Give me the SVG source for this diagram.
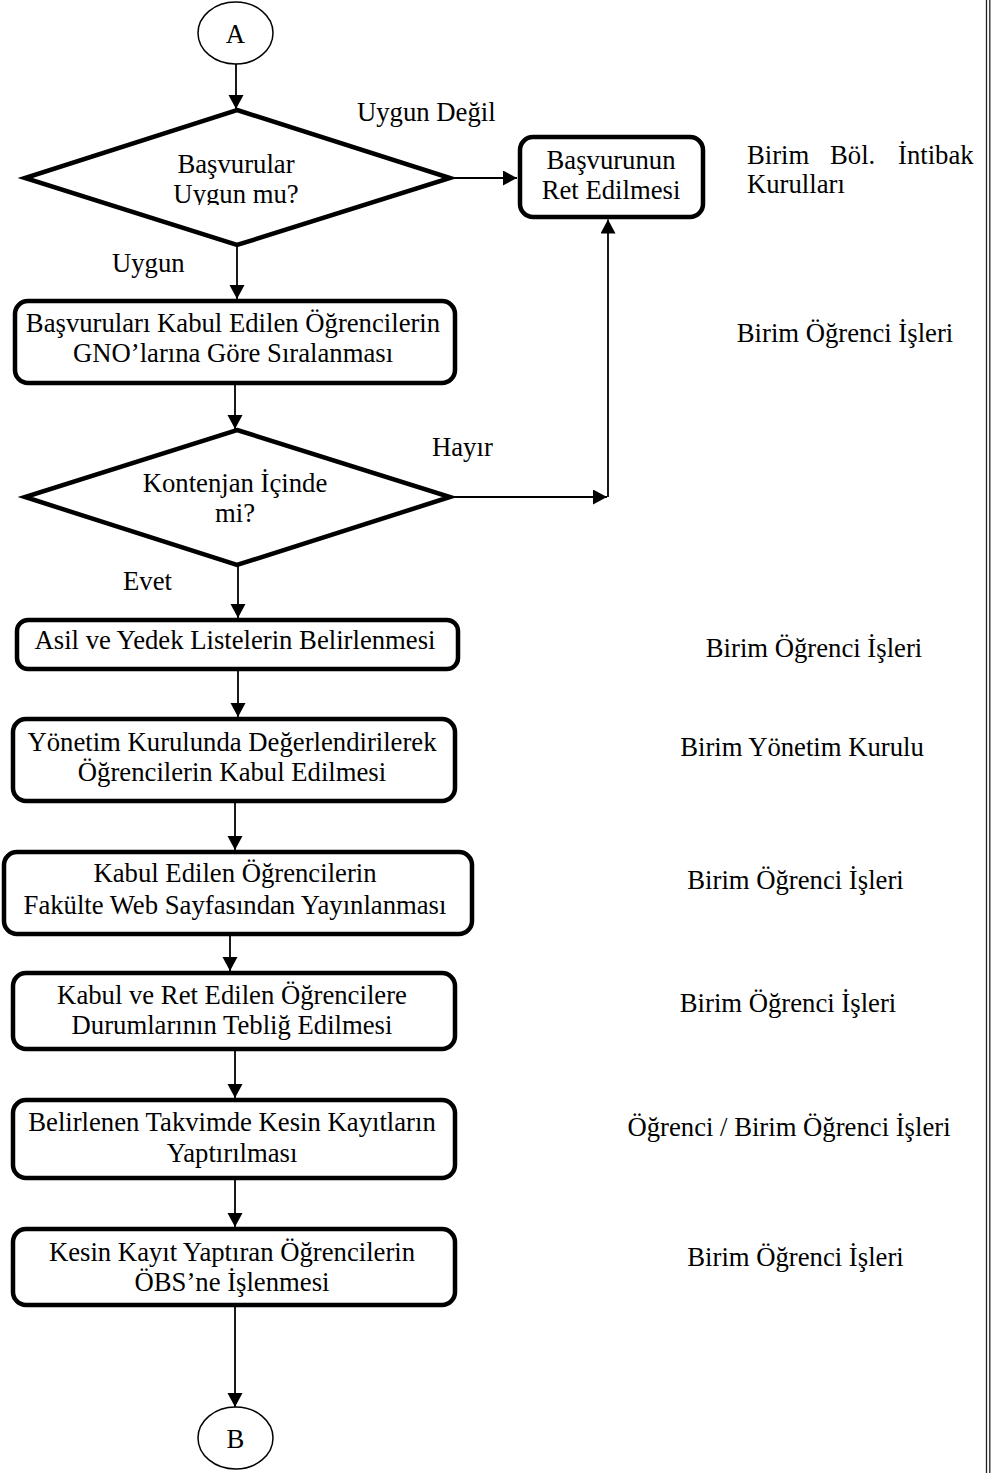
<svg xmlns="http://www.w3.org/2000/svg" width="997" height="1473" viewBox="0 0 997 1473">
<style>
text{font-family:"Liberation Serif","Times New Roman",serif;font-size:26.7px;fill:#000}
.c{text-anchor:middle}
.box{fill:#fff;stroke:#000;stroke-width:4.5}
.dia{fill:#fff;stroke:#000;stroke-width:4.5;stroke-linejoin:miter}
.term{fill:#fff;stroke:#000;stroke-width:1.5}
.con{fill:none;stroke:#000;stroke-width:1.8}
.border{stroke:#222;stroke-width:1.3}
</style>
<defs>
<marker id="arr" markerUnits="userSpaceOnUse" markerWidth="16" markerHeight="16" refX="14" refY="7.5" orient="auto">
<path d="M0,0 L14,7.5 L0,15 z" fill="#000"/>
</marker>
<clipPath id="clip1"><rect x="0" y="130" width="480" height="75"/></clipPath>
</defs>
<rect x="0" y="0" width="997" height="1473" fill="#fff"/>
<g id="border">
<line class="border" x1="986.5" y1="0" x2="986.5" y2="1473"/>
<line class="border" x1="989.8" y1="0" x2="989.8" y2="1473"/>
</g>
<g id="connectors">
<line class="con" x1="236" y1="64" x2="236" y2="109" marker-end="url(#arr)"/>
<line class="con" x1="452" y1="178" x2="517" y2="178" marker-end="url(#arr)"/>
<line class="con" x1="237" y1="246" x2="237" y2="299" marker-end="url(#arr)"/>
<line class="con" x1="235" y1="385" x2="235" y2="429" marker-end="url(#arr)"/>
<polyline class="con" points="452,497 607,497" marker-end="url(#arr)"/>
<line class="con" x1="608" y1="497" x2="608" y2="219.5" marker-end="url(#arr)"/>
<line class="con" x1="238" y1="566" x2="238" y2="618" marker-end="url(#arr)"/>
<line class="con" x1="238" y1="671" x2="238" y2="717" marker-end="url(#arr)"/>
<line class="con" x1="235" y1="803" x2="235" y2="850" marker-end="url(#arr)"/>
<line class="con" x1="230" y1="936" x2="230" y2="971" marker-end="url(#arr)"/>
<line class="con" x1="235" y1="1051" x2="235" y2="1098" marker-end="url(#arr)"/>
<line class="con" x1="235" y1="1180" x2="235" y2="1227" marker-end="url(#arr)"/>
<line class="con" x1="235" y1="1307" x2="235" y2="1407" marker-end="url(#arr)"/>
</g>
<g id="labels">
<text x="357" y="121">Uygun Değil</text>
<text x="112" y="272">Uygun</text>
<text x="432" y="456">Hayır</text>
<text x="123" y="590">Evet</text>
</g>
<g id="nodeA">
<ellipse class="term" cx="235.5" cy="33" rx="37.5" ry="31"/>
<text class="c" x="235.5" y="43">A</text>
</g>
<g id="decision1">
<polygon class="dia" points="237,110 450,178 237,245 25,178"/>
<text class="c" x="236" y="173">Başvurular</text>
<text class="c" x="236" y="203" clip-path="url(#clip1)">Uygun mu?</text>
</g>
<g id="reject">
<rect class="box" x="520" y="137" width="183" height="80" rx="13"/>
<text class="c" x="611" y="169">Başvurunun</text>
<text class="c" x="611" y="199">Ret Edilmesi</text>
</g>
<g id="sort">
<rect class="box" x="15" y="301" width="440" height="82" rx="13"/>
<text class="c" x="233" y="332">Başvuruları Kabul Edilen Öğrencilerin</text>
<text class="c" x="233" y="362">GNO’larına Göre Sıralanması</text>
</g>
<g id="decision2">
<polygon class="dia" points="237,430 450,497 237,565 25,497"/>
<text class="c" x="235" y="492">Kontenjan İçinde</text>
<text class="c" x="235" y="522">mi?</text>
</g>
<g id="lists">
<rect class="box" x="17" y="620" width="441" height="49" rx="11"/>
<text class="c" x="235" y="649">Asil ve Yedek Listelerin Belirlenmesi</text>
</g>
<g id="board">
<rect class="box" x="13" y="719" width="442" height="82" rx="13"/>
<text class="c" x="232" y="751">Yönetim Kurulunda Değerlendirilerek</text>
<text class="c" x="232" y="781">Öğrencilerin Kabul Edilmesi</text>
</g>
<g id="publish">
<rect class="box" x="4" y="852" width="468" height="82" rx="13"/>
<text class="c" x="235" y="882">Kabul Edilen Öğrencilerin</text>
<text class="c" x="235" y="914">Fakülte Web Sayfasından Yayınlanması</text>
</g>
<g id="notify">
<rect class="box" x="13" y="973" width="442" height="76" rx="13"/>
<text class="c" x="232" y="1004">Kabul ve Ret Edilen Öğrencilere</text>
<text class="c" x="232" y="1034">Durumlarının Tebliğ Edilmesi</text>
</g>
<g id="register">
<rect class="box" x="13" y="1100" width="442" height="78" rx="13"/>
<text class="c" x="232" y="1131">Belirlenen Takvimde Kesin Kayıtların</text>
<text class="c" x="232" y="1162">Yaptırılması</text>
</g>
<g id="obs">
<rect class="box" x="13" y="1229" width="442" height="76" rx="13"/>
<text class="c" x="232" y="1261">Kesin Kayıt Yaptıran Öğrencilerin</text>
<text class="c" x="232" y="1291">ÖBS’ne İşlenmesi</text>
</g>
<g id="nodeB">
<ellipse class="term" cx="235.5" cy="1438" rx="37.5" ry="31"/>
<text class="c" x="235.5" y="1448">B</text>
</g>
<g id="responsible">
<text y="164"><tspan x="747">Birim</tspan><tspan x="830">Böl.</tspan><tspan x="898">İntibak</tspan></text>
<text x="747" y="193">Kurulları</text>
<text class="c" x="845" y="342">Birim Öğrenci İşleri</text>
<text class="c" x="814" y="657">Birim Öğrenci İşleri</text>
<text class="c" x="802" y="756">Birim Yönetim Kurulu</text>
<text class="c" x="795.5" y="889">Birim Öğrenci İşleri</text>
<text class="c" x="788" y="1012">Birim Öğrenci İşleri</text>
<text class="c" x="789" y="1136">Öğrenci / Birim Öğrenci İşleri</text>
<text class="c" x="795.5" y="1266">Birim Öğrenci İşleri</text>
</g>
</svg>
